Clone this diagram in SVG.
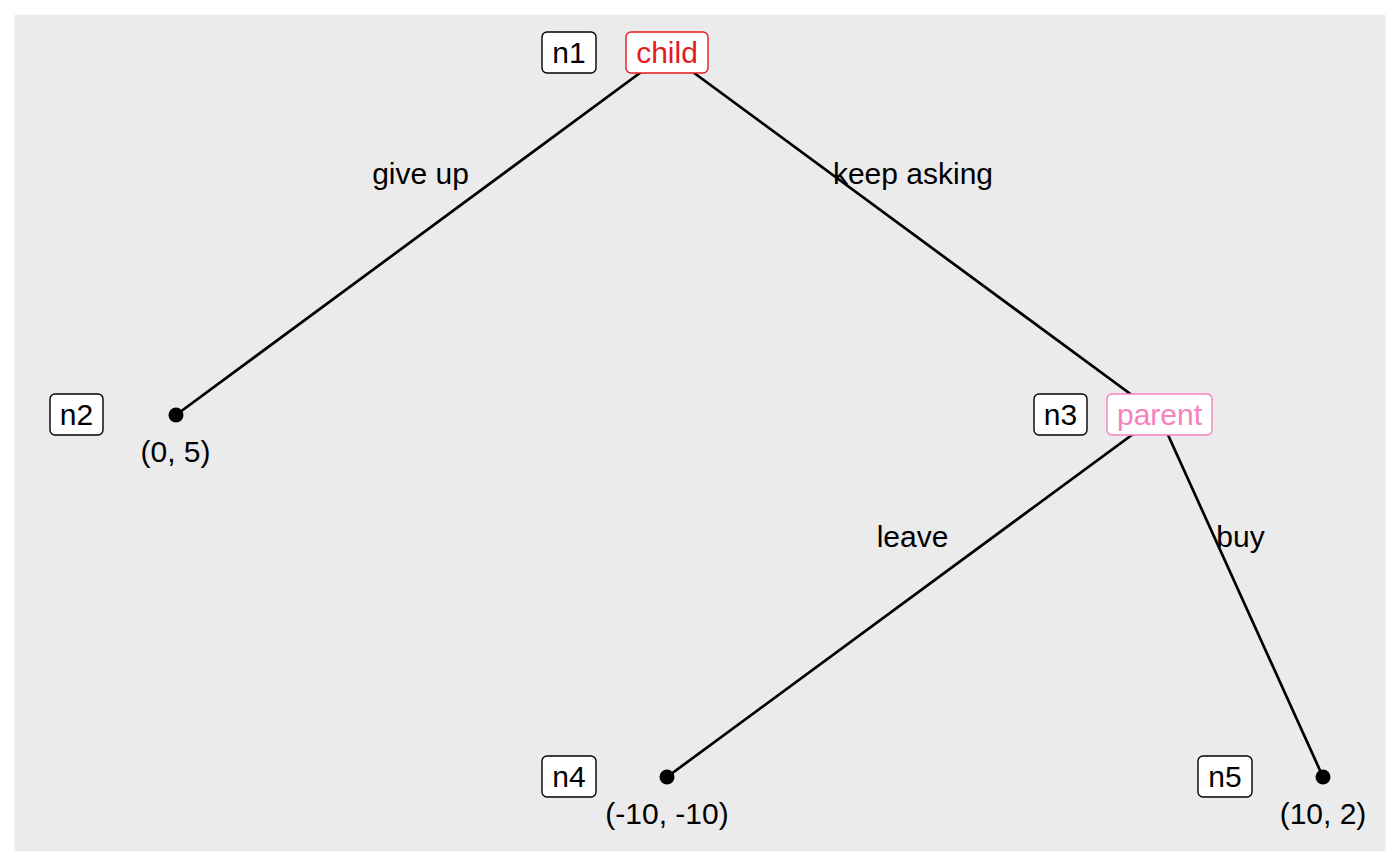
<svg xmlns="http://www.w3.org/2000/svg" width="1400" height="866" viewBox="0 0 1400 866">
<style>
text{font-family:"Liberation Sans",Arial,sans-serif;font-size:30px;text-anchor:middle;fill:#000}
.box{fill:#fff;stroke:#000;stroke-width:1.4}
.edge{stroke:#000;stroke-width:2.7;fill:none}
.dot{fill:#000}
</style>
<rect x="0" y="0" width="1400" height="866" fill="#fff"/>
<rect x="14.6" y="14.6" width="1370.8" height="836.8" fill="#EBEBEB"/>
<g id="connectors">
<line class="edge" x1="667" y1="53" x2="176" y2="415"/>
<line class="edge" x1="667" y1="53" x2="1159" y2="415"/>
<line class="edge" x1="1159" y1="415" x2="667" y2="777"/>
<line class="edge" x1="1159" y1="415" x2="1323" y2="777"/>
<text x="420.5" y="184">give up</text>
<text x="913" y="184">keep asking</text>
<text x="912.5" y="547">leave</text>
<text x="1240.5" y="547">buy</text>
</g>
<g id="n1">
<rect class="box" x="542" y="32" width="54" height="41" rx="5"/>
<text x="569" y="63">n1</text>
<rect x="626" y="32" width="82" height="41" rx="5" fill="#fff" stroke="#E41A1C" stroke-width="1.4"/>
<text x="667" y="63" style="fill:#E41A1C">child</text>
</g>
<g id="n2">
<rect class="box" x="50" y="394" width="53" height="41" rx="5"/>
<text x="76.5" y="425">n2</text>
<circle class="dot" cx="176" cy="415" r="7.5"/>
<text x="175.5" y="462">(0, 5)</text>
</g>
<g id="n3">
<rect class="box" x="1034" y="394" width="53" height="41" rx="5"/>
<text x="1060.5" y="425">n3</text>
<rect x="1107" y="394" width="105" height="41" rx="5" fill="#fff" stroke="#F781BF" stroke-width="1.4"/>
<text x="1159.5" y="425" style="fill:#F781BF">parent</text>
</g>
<g id="n4">
<rect class="box" x="542" y="756" width="54" height="41" rx="5"/>
<text x="569" y="787">n4</text>
<circle class="dot" cx="667" cy="777" r="7.5"/>
<text x="667" y="824">(-10, -10)</text>
</g>
<g id="n5">
<rect class="box" x="1198" y="756" width="54" height="41" rx="5"/>
<text x="1225" y="787">n5</text>
<circle class="dot" cx="1323" cy="777" r="7.5"/>
<text x="1323" y="824">(10, 2)</text>
</g>
</svg>
